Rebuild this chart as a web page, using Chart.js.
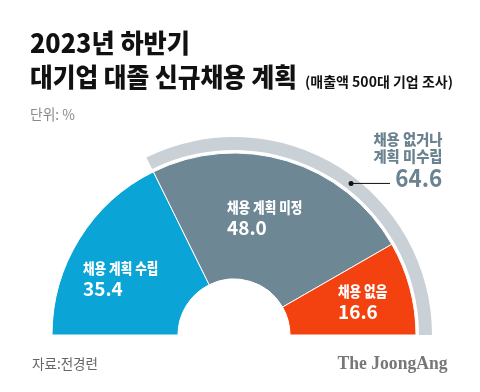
<!DOCTYPE html>
<html>
<head>
<meta charset="utf-8">
<script src="https://cdn.jsdelivr.net/npm/chart.js@4.4.0/dist/chart.umd.min.js"></script>
<style>
  html, body { margin: 0; padding: 0; background: #fff; }
  body { width: 480px; height: 392px; position: relative; overflow: hidden; font-family: "Noto Sans CJK KR", sans-serif; }
  #chart { position: absolute; left: 0; top: 0; }
  .t { position: absolute; white-space: nowrap; line-height: 1; transform-origin: 0 0; }
  .r { transform-origin: 100% 0; }
</style>
</head>
<body>
<canvas id="chart" width="480" height="392"></canvas>

<div class="t" style="left:30px;top:29px;font-size:26px;font-weight:900;color:#111" data-w="160">2023년 하반기</div>
<div class="t" style="left:30px;top:63px;font-size:26px;font-weight:900;color:#111" data-w="267">대기업 대졸 신규채용 계획</div>
<div class="t" style="left:305px;top:74px;font-size:14px;font-weight:700;color:#111" data-w="148">(매출액 500대 기업 조사)</div>
<div class="t" style="left:30px;top:106px;font-size:15px;color:#8a8a8a" data-w="45">단위: %</div>

<div class="t r" id="comb1" style="right:38px;top:131px;font-size:15px;font-weight:900;color:#6b8391" data-w="69"></div>
<div class="t r" id="comb2" style="right:38px;top:148px;font-size:15px;font-weight:900;color:#6b8391" data-w="69"></div>
<div class="t r" id="combVal" style="right:38px;top:165px;font-size:24px;font-weight:700;color:#6b8391" data-w="47"></div>

<div class="t" style="left:32px;top:356px;font-size:14px;color:#666" data-w="66">자료:전경련</div>
<div class="t r" style="right:32px;top:354px;font-size:18px;font-weight:700;color:#777;font-family:'Liberation Serif',serif" data-w="110">The JoongAng</div>

<script>
  const categories = ["채용 계획 수립", "채용 계획 미정", "채용 없음"];
  const values = [35.4, 48.0, 16.6];
  const combinedLabel = ["채용 없거나", "계획 미수립"];
  const combinedValue = 64.6;

  const colors = ["#0aa4d7", "#6e8795", "#f3410f"];
  const ringColor = "#c9d1d7";

  document.getElementById("comb1").textContent = combinedLabel[0];
  document.getElementById("comb2").textContent = combinedLabel[1];
  document.getElementById("combVal").textContent = combinedValue.toFixed(1);

  // squeeze text to the widths used in the original graphic
  document.querySelectorAll(".t[data-w]").forEach((el) => {
    const w = el.getBoundingClientRect().width;
    const target = +el.dataset.w;
    if (w > 0) el.style.transform = "scaleX(" + (target / w).toFixed(3) + ")";
  });

  // label offsets from the centre of the half doughnut
  const labelPos = [[-151, -61], [-7, -122], [104, -38]];

  const sliceLabels = {
    id: "sliceLabels",
    afterDatasetsDraw(chart) {
      const ctx = chart.ctx;
      const meta = chart.getDatasetMeta(2);
      ctx.save();
      ctx.fillStyle = "#fff";
      ctx.textAlign = "left";
      ctx.textBaseline = "alphabetic";
      meta.data.forEach((arc, i) => {
        const x = arc.x + labelPos[i][0];
        const y = arc.y + labelPos[i][1];
        ctx.font = "900 15px 'Noto Sans CJK KR'";
        const w = ctx.measureText(categories[i]).width;
        ctx.fillText(categories[i], x, y, w * 0.84);
        ctx.font = "700 19px 'Noto Sans CJK KR'";
        ctx.fillText(values[i].toFixed(1), x, y + 22);
      });

      // leader line from the outer ring to the combined value
      const ring = chart.getDatasetMeta(0).data[1];
      const a = ring.startAngle + 0.55 * (ring.endAngle - ring.startAngle);
      const r = (ring.innerRadius + ring.outerRadius) / 2;
      const dx = ring.x + Math.cos(a) * r;
      const dy = ring.y + Math.sin(a) * r;
      ctx.strokeStyle = "#111";
      ctx.lineWidth = 1;
      ctx.beginPath();
      ctx.moveTo(dx, dy);
      ctx.lineTo(ring.x + 156, dy);
      ctx.stroke();
      ctx.fillStyle = "#111";
      ctx.beginPath();
      ctx.arc(dx, dy, 2.5, 0, Math.PI * 2);
      ctx.fill();
      ctx.restore();
    }
  };

  new Chart(document.getElementById("chart"), {
    type: "doughnut",
    data: {
      labels: categories,
      datasets: [
        {
          data: [values[0], combinedValue],
          backgroundColor: ["rgba(0,0,0,0)", ringColor],
          borderWidth: 0,
          weight: 13
        },
        {
          data: [100],
          backgroundColor: ["rgba(0,0,0,0)"],
          borderWidth: 0,
          weight: 3
        },
        {
          data: values,
          backgroundColor: colors,
          borderColor: "#fff",
          borderWidth: 1,
          weight: 126
        }
      ]
    },
    options: {
      responsive: false,
      animation: false,
      events: [],
      rotation: -90,
      circumference: 180,
      cutout: "28.3%",
      layout: { padding: { left: 36, right: 48, top: 137, bottom: 57 } },
      plugins: {
        legend: { display: false },
        tooltip: { enabled: false }
      }
    },
    plugins: [sliceLabels]
  });
</script>
</body>
</html>
